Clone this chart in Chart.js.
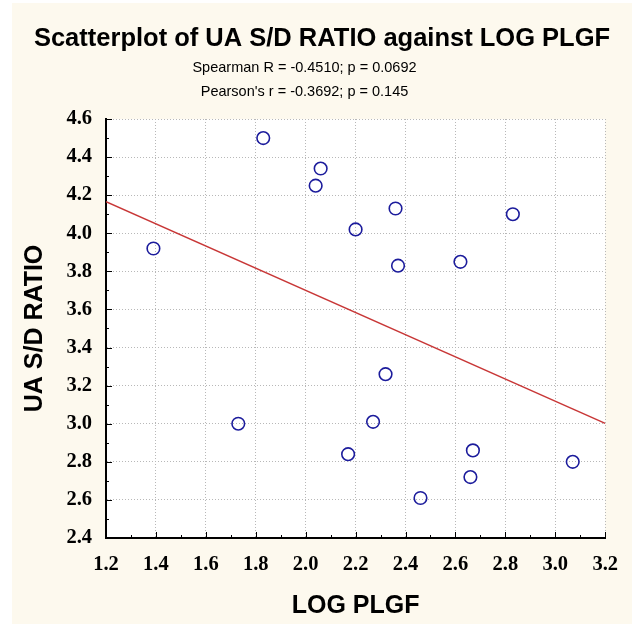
<!DOCTYPE html>
<html><head><meta charset="utf-8">
<style>html,body{margin:0;padding:0;background:#fff;}canvas{display:block}</style>
<script src="https://cdn.jsdelivr.net/npm/chart.js@4/dist/chart.umd.min.js"></script>
</head><body>
<canvas id="c" width="632" height="624"></canvas>
<script>
// ---- data ----
const logPlgf   = [1.39, 1.73, 1.83, 2.04, 2.06, 2.17, 2.20, 2.27, 2.32, 2.36, 2.37, 2.46, 2.62, 2.66, 2.67, 2.83, 3.07];
const uaSdRatio = [3.92, 3.00, 4.50, 4.25, 4.34, 2.84, 4.02, 3.01, 3.26, 4.13, 3.83, 2.61, 3.85, 2.72, 2.86, 4.10, 2.80];
const fitX = [1.2, 3.2];
const fitY = [4.166, 3.002];
const xTickValues = [1.2, 1.4, 1.6, 1.8, 2.0, 2.2, 2.4, 2.6, 2.8, 3.0, 3.2];
const xTickLabels = ['1.2','1.4','1.6','1.8','2.0','2.2','2.4','2.6','2.8','3.0','3.2'];
const yTickValues = [2.4, 2.6, 2.8, 3.0, 3.2, 3.4, 3.6, 3.8, 4.0, 4.2, 4.4, 4.6];
const yTickLabels = ['2.4','2.6','2.8','3.0','3.2','3.4','3.6','3.8','4.0','4.2','4.4','4.6'];
const titleText = 'Scatterplot of UA S/D RATIO against LOG PLGF';
const subtitleLines = ['Spearman R = -0.4510; p = 0.0692', "Pearson's r = -0.3692; p = 0.145"];
const xTitle = 'LOG PLGF';
const yTitle = 'UA S/D RATIO';

const SANS = "'Liberation Sans', Arial, sans-serif";
const SERIF = "'Liberation Serif', 'Times New Roman', serif";

const bgPlugin = {
  id: 'bg',
  beforeDraw(chart) {
    const {ctx, chartArea: a, width, height} = chart;
    ctx.save();
    ctx.fillStyle = '#ffffff';
    ctx.fillRect(0, 0, width, height);
    ctx.fillStyle = '#fdf9ee';
    ctx.fillRect(12, 3, width - 12, height - 3);
    ctx.fillStyle = '#ffffff';
    ctx.fillRect(a.left, a.top, a.right - a.left, a.bottom - a.top);
    ctx.restore();
  }
};

// main title, centred on the cream panel
const mainTitle = {
  id: 'mainTitle',
  afterDraw(chart) {
    const {ctx, width} = chart;
    ctx.save();
    ctx.fillStyle = '#000';
    ctx.font = 'bold 25.5px ' + SANS;
    ctx.textAlign = 'center';
    ctx.textBaseline = 'middle';
    ctx.fillText(titleText, (12 + width) / 2, 38.5);
    ctx.restore();
  }
};

const inwardTicks = {
  id: 'inwardTicks',
  afterDatasetsDraw(chart) {
    const {ctx, chartArea: a} = chart;
    const xs = chart.scales.x, ys = chart.scales.y;
    ctx.save();
    ctx.strokeStyle = '#000';
    ctx.lineWidth = 1;
    ctx.beginPath();
    xTickValues.forEach((v, i) => {
      const px = Math.round(xs.getPixelForValue(v)) + 0.5;
      ctx.moveTo(px, a.bottom); ctx.lineTo(px, a.bottom - 6);
      if (i < xTickValues.length - 1) {
        const m = Math.round(xs.getPixelForValue((v + xTickValues[i + 1]) / 2)) + 0.5;
        ctx.moveTo(m, a.bottom); ctx.lineTo(m, a.bottom - 3);
      }
    });
    yTickValues.forEach((v, i) => {
      const py = Math.round(ys.getPixelForValue(v)) + 0.5;
      ctx.moveTo(a.left, py); ctx.lineTo(a.left + 6, py);
      if (i < yTickValues.length - 1) {
        const m = Math.round(ys.getPixelForValue((v + yTickValues[i + 1]) / 2)) + 0.5;
        ctx.moveTo(a.left, m); ctx.lineTo(a.left + 3, m);
      }
    });
    ctx.stroke();
    ctx.restore();
  }
};

new Chart(document.getElementById('c'), {
  type: 'scatter',
  data: {
    datasets: [
      {
        type: 'line',
        data: fitX.map((x, i) => ({x: x, y: fitY[i]})),
        borderColor: '#c83737',
        borderWidth: 1.5,
        pointRadius: 0,
        fill: false,
        tension: 0
      },
      {
        data: logPlgf.map((x, i) => ({x: x, y: uaSdRatio[i]})),
        pointStyle: 'circle',
        pointRadius: 6.3,
        borderWidth: 1.6,
        borderColor: '#1c1c9c',
        backgroundColor: 'rgba(255,255,255,0)'
      }
    ]
  },
  options: {
    responsive: false,
    animation: false,
    events: [],
    layout: {padding: {left: 0, right: 23, top: 0, bottom: 0}},
    plugins: {
      legend: {display: false},
      tooltip: {enabled: false},
      title: {display: false},
      subtitle: {
        display: true, text: subtitleLines, color: '#000',
        font: {family: SANS, size: 14.5, weight: 'normal', lineHeight: '24px'},
        padding: {top: 55.5, bottom: 15.5}
      }
    },
    scales: {
      x: {
        type: 'linear', position: 'bottom', min: 1.2, max: 3.2,
        afterBuildTicks(s) { s.ticks = xTickValues.map(v => ({value: v})); },
        afterFit(s) { s.height = 86; },
        ticks: {
          autoSkip: false, maxRotation: 0, padding: 14, color: '#000',
          font: {family: SERIF, size: 20.5, weight: 'bold', lineHeight: 1.2},
          callback: (v, i) => xTickLabels[i]
        },
        grid: {color: '#b8b8b8', lineWidth: 1, drawTicks: false},
        border: {display: true, color: '#000', width: 2, dash: [1, 2]},
        title: {
          display: true, text: xTitle, color: '#000',
          font: {family: SANS, size: 25, weight: 'bold', lineHeight: 1.2},
          padding: {top: 0, bottom: 3}
        }
      },
      y: {
        type: 'linear', position: 'left', min: 2.4, max: 4.6,
        afterBuildTicks(s) { s.ticks = yTickValues.map(v => ({value: v})); },
        afterFit(s) { s.width = 106; },
        ticks: {
          autoSkip: false, padding: 14, color: '#000',
          font: {family: SERIF, size: 20.5, weight: 'bold', lineHeight: 1.2},
          callback: (v, i) => yTickLabels[i]
        },
        grid: {color: '#b8b8b8', lineWidth: 1, drawTicks: false},
        border: {display: true, color: '#000', width: 2, dash: [1, 2]},
        title: {
          display: true, text: yTitle, color: '#000',
          font: {family: SANS, size: 25, weight: 'bold', lineHeight: 1.2},
          padding: {top: 20, bottom: 0}
        }
      }
    }
  },
  plugins: [bgPlugin, inwardTicks, mainTitle]
});
</script>
</body></html>
